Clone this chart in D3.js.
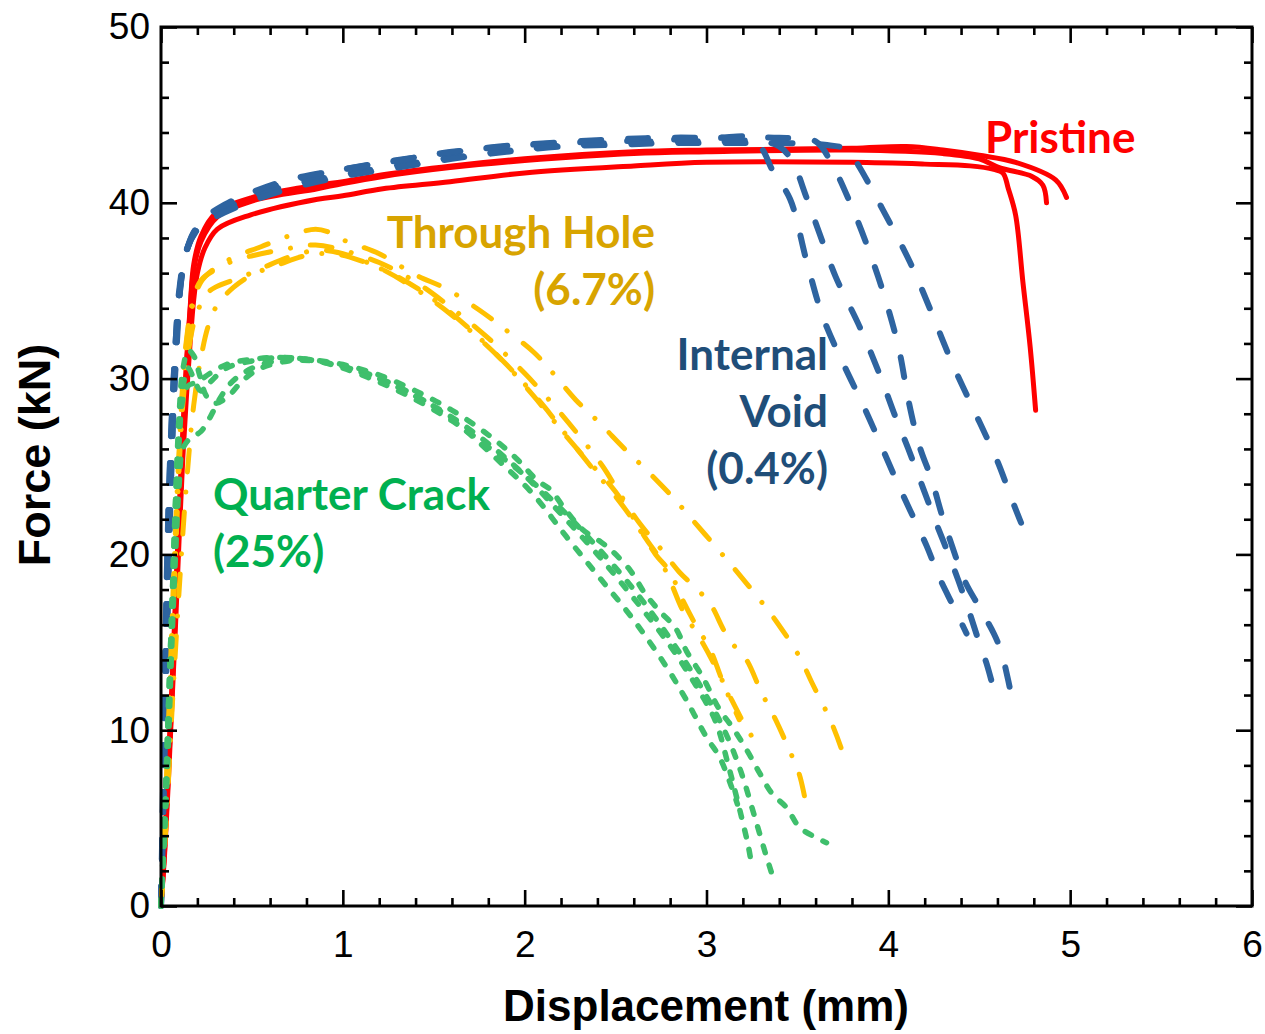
<!DOCTYPE html>
<html>
<head>
<meta charset="utf-8">
<script src="https://cdn.jsdelivr.net/npm/d3@7"></script>
<style>
  html, body { margin: 0; padding: 0; background: #fff; }
  svg { display: block; }
</style>
</head>
<body>
<svg id="chart" width="1265" height="1034"></svg>
<script>
// Force–displacement curves, [displacement (mm), force (kN)]

// Pristine specimens
const pristine1 = [[0,0],[0.02,3],[0.04,7],[0.06,11.5],[0.08,16],[0.1,21],[0.12,25.5],[0.14,29],[0.16,32],[0.18,34.5],[0.2,36],[0.24,37.4],[0.31,38.5],[0.49,39.3],[0.86,40.2],[1.0,40.4],[1.22,40.8],[1.59,41.2],[2.0,41.7],[2.6,42.1],[3.0,42.3],[3.8,42.3],[4.2,42.2],[4.45,42.1],[4.58,41.9],[4.63,41.7],[4.66,40.8],[4.7,39.3],[4.74,35.5],[4.78,31.8],[4.81,28.2]];
const pristine2 = [[0,0],[0.02,3.2],[0.04,7.5],[0.06,12],[0.08,17],[0.1,22],[0.12,26.5],[0.14,30.5],[0.16,33.8],[0.18,36.2],[0.22,37.8],[0.31,39.2],[0.5,40.1],[0.86,40.8],[1.0,41.1],[1.22,41.5],[1.59,42.0],[2.0,42.4],[2.6,42.8],[3.0,42.9],[3.8,43.0],[4.3,42.8],[4.5,42.5],[4.61,42.0],[4.79,41.5],[4.85,41.0],[4.87,40.0]];
const pristine3 = [[0,0],[0.02,3.4],[0.04,8],[0.06,12.5],[0.08,17.5],[0.1,22.5],[0.12,27],[0.14,31],[0.16,34],[0.18,36.5],[0.22,38.1],[0.3,39.4],[0.5,40.3],[0.86,41.0],[1.0,41.2],[1.22,41.6],[1.6,42.1],[2.0,42.5],[2.6,42.9],[3.0,43.0],[3.8,43.1],[4.1,43.2],[4.3,43.0],[4.5,42.7],[4.7,42.3],[4.92,41.3],[4.98,40.3]];

// Internal void (0.4%)
const void1 = [[0,0],[0.01,5],[0.02,11],[0.03,17],[0.04,22],[0.055,26.5],[0.07,30],[0.09,33.5],[0.12,36.3],[0.16,37.8],[0.22,38.8],[0.3,39.5],[0.4,40.1],[0.55,40.7],[0.7,41.2],[0.85,41.6],[1.0,41.9],[1.28,42.4],[1.55,42.8],[1.86,43.2],[2.14,43.4],[2.47,43.6],[2.76,43.7],[3.05,43.7],[3.25,43.7],[3.31,43.0],[3.36,41.9],[3.46,40.2],[3.55,36.7],[3.64,33.5],[3.75,30.9],[3.87,28.3],[3.96,26.2],[4.04,24.3],[4.12,22.5],[4.21,20.5],[4.28,18.7],[4.36,17.0],[4.43,15.5]];
const void2 = [[0,0],[0.01,6],[0.02,12],[0.03,18],[0.045,24],[0.06,28],[0.08,32],[0.1,35],[0.14,37.3],[0.21,38.6],[0.3,39.3],[0.4,39.9],[0.67,40.9],[1.0,41.6],[1.28,42.1],[1.55,42.5],[1.86,42.9],[2.14,43.2],[2.47,43.4],[2.76,43.5],[3.05,43.5],[3.3,43.5],[3.4,43.2],[3.47,42.4],[3.55,40.3],[3.62,38.3],[3.71,35.8],[3.84,33.0],[3.95,30.3],[4.04,27.8],[4.11,26.0],[4.19,23.8],[4.27,21.6],[4.35,19.5],[4.43,17.2],[4.49,15.3],[4.54,13.8],[4.57,12.7]];
const void3 = [[0,0],[0.01,5],[0.02,10],[0.035,17],[0.05,23],[0.065,27.5],[0.08,31],[0.1,34.5],[0.13,36.8],[0.18,38.3],[0.25,39.2],[0.35,39.9],[0.5,40.6],[0.7,41.3],[1.0,41.9],[1.3,42.4],[1.6,42.9],[1.9,43.2],[2.2,43.4],[2.5,43.5],[2.8,43.6],[3.1,43.7],[3.4,43.7],[3.6,43.5],[3.68,42.4],[3.79,40.0],[3.9,37.1],[3.99,34.3],[4.06,31.6],[4.11,28.8],[4.17,26.2],[4.24,24.2],[4.29,22.4],[4.35,20.5],[4.42,18.5],[4.5,17.0],[4.58,15.5],[4.62,14.5],[4.66,12.8],[4.68,11.8]];
const void4 = [[0,0],[0.01,4],[0.025,11],[0.04,18],[0.055,24],[0.07,28.5],[0.09,32.5],[0.11,35.5],[0.15,37.6],[0.2,38.6],[0.3,39.2],[0.45,39.9],[0.67,40.7],[1.0,41.5],[1.3,42.0],[1.6,42.5],[1.9,42.9],[2.2,43.2],[2.5,43.3],[2.8,43.4],[3.1,43.4],[3.4,43.4],[3.65,43.3],[3.78,43.0],[3.84,42.05],[3.97,39.6],[4.12,36.6],[4.24,33.7],[4.35,30.9],[4.48,28.0],[4.6,25.3],[4.68,23.1],[4.73,21.8]];

// Through hole (6.7%)
const hole1 = [[0,0],[0.02,4],[0.04,9.5],[0.06,15],[0.08,20.5],[0.1,25.5],[0.12,29.5],[0.14,32],[0.17,34],[0.22,35.5],[0.3,36.3],[0.4,36.9],[0.55,37.5],[0.7,38.1],[0.85,38.5],[0.93,38.3],[1.0,37.9],[1.2,37.1],[1.4,35.9],[1.57,35.1],[1.75,33.9],[1.88,32.9],[2.05,31.5],[2.14,30.5],[2.28,28.8],[2.4,27.6],[2.56,25.9],[2.67,24.8],[2.81,23.3],[2.92,22.0],[3.07,20.2],[3.16,19.1],[3.31,17.2],[3.39,16.1],[3.51,14.2],[3.58,12.7],[3.68,10.6],[3.74,9.0],[3.77,8.0]];
const hole2 = [[0,0],[0.02,4.5],[0.04,10],[0.06,16],[0.08,21.5],[0.1,26],[0.12,29.8],[0.14,32.2],[0.17,34.2],[0.22,35.6],[0.3,36.2],[0.4,36.7],[0.55,37.1],[0.7,37.4],[0.85,37.6],[1.0,37.3],[1.2,36.6],[1.4,35.5],[1.6,34.0],[1.8,32.3],[2.0,30.3],[2.15,28.6],[2.28,27.0],[2.43,25.0],[2.52,23.5],[2.63,21.8],[2.75,20.3],[2.85,19.0],[2.94,18.1],[3.02,17.2],[3.1,15.6],[3.16,14.7],[3.22,14.0],[3.3,12.2],[3.38,10.6],[3.45,9.0],[3.51,7.5],[3.54,6.2],[3.56,5.3]];
const hole3 = [[0,0],[0.02,4],[0.04,9],[0.06,14.5],[0.08,20],[0.1,25],[0.12,28.5],[0.15,31.5],[0.19,33.5],[0.25,34.8],[0.3,35.2],[0.45,35.8],[0.56,36.3],[0.7,36.9],[0.86,37.3],[1.0,37.1],[1.2,36.3],[1.4,35.1],[1.6,33.6],[1.86,31.2],[2.05,29.0],[2.23,26.7],[2.34,25.4],[2.45,24.2],[2.56,22.7],[2.66,21.0],[2.74,19.8],[2.8,18.5],[2.87,16.8],[2.96,15.3],[3.05,13.6],[3.13,11.9],[3.2,10.5],[3.27,9.3]];
const hole4 = [[0,0],[0.03,5],[0.06,11],[0.1,18],[0.14,24],[0.18,28.5],[0.22,31.2],[0.26,33],[0.31,34.2],[0.4,35.2],[0.5,35.9],[0.65,36.5],[0.8,37.0],[0.95,37.1],[1.1,36.7],[1.3,35.8],[1.5,34.5],[1.7,32.8],[1.9,30.8],[2.1,28.5],[2.25,26.5],[2.38,24.8],[2.5,23.3],[2.62,21.6],[2.72,20.0],[2.8,19.0],[2.86,17.6],[2.94,16.0],[3.02,14.6],[3.08,13.0],[3.14,11.5],[3.18,10.6]];

// Quarter crack (25%)
const crack1 = [[0,0],[0.02,5],[0.04,11],[0.06,17],[0.08,23],[0.1,27],[0.12,29.5],[0.15,30.6],[0.18,30.0],[0.22,29.3],[0.27,29.8],[0.36,30.6],[0.5,31.0],[0.65,31.2],[0.8,31.1],[0.95,30.8],[1.13,30.3],[1.31,29.5],[1.5,28.4],[1.68,27.0],[1.86,25.3],[2.04,23.5],[2.23,21.0],[2.41,18.7],[2.59,16.4],[2.78,13.6],[2.89,11.7],[3.0,9.6],[3.07,8.5],[3.13,7.0],[3.17,5.8]];
const crack2 = [[0,0],[0.02,5],[0.04,11],[0.06,17],[0.08,23],[0.1,28],[0.12,30.5],[0.15,31.6],[0.18,31.3],[0.21,30.3],[0.25,29.0],[0.3,28.6],[0.37,29.0],[0.45,29.9],[0.55,30.6],[0.7,31.0],[0.85,31.0],[1.0,30.7],[1.2,30.0],[1.4,29.0],[1.6,27.8],[1.8,26.3],[2.0,24.5],[2.2,22.3],[2.4,20.0],[2.6,17.5],[2.8,14.8],[2.95,12.4],[3.05,10.5],[3.12,8.0],[3.17,6.0],[3.23,3.4],[3.25,2.2]];
const crack3 = [[0,0],[0.02,4],[0.04,9],[0.06,15],[0.08,20],[0.1,24],[0.12,26],[0.16,26.6],[0.22,27.0],[0.27,27.8],[0.32,28.8],[0.38,29.7],[0.45,30.3],[0.55,30.8],[0.7,31.1],[0.85,31.0],[1.0,30.6],[1.2,29.8],[1.4,28.8],[1.6,27.6],[1.8,26.1],[2.0,24.5],[2.2,22.6],[2.4,20.4],[2.6,18.0],[2.8,15.2],[2.95,12.8],[3.05,11.0],[3.12,9.5],[3.17,8.2],[3.21,7.0],[3.25,5.6],[3.29,4.2],[3.33,2.8],[3.37,1.5]];
const crack4 = [[0,0],[0.02,5],[0.04,10],[0.06,16],[0.08,22],[0.1,26.5],[0.12,28.8],[0.15,29.6],[0.2,29.8],[0.27,30.3],[0.36,30.8],[0.5,31.1],[0.65,31.2],[0.8,31.1],[1.0,30.8],[1.2,30.2],[1.4,29.3],[1.6,28.2],[1.8,26.8],[1.95,25.5],[2.07,24.2],[2.14,23.7],[2.22,22.6],[2.32,21.4],[2.42,20.7],[2.48,20.2],[2.58,19.1],[2.66,17.8],[2.74,16.8],[2.83,15.8],[2.89,14.5],[2.98,13.0],[3.07,11.2],[3.14,10.2],[3.22,8.9],[3.29,7.6],[3.36,6.4],[3.44,5.6],[3.51,4.5],[3.6,3.9],[3.66,3.6]];

// Axis ticks
const xTicks = [0, 1, 2, 3, 4, 5, 6];
const yTicks = [0, 10, 20, 30, 40, 50];

// Group labels
const labelPristine = ["Pristine"];
const labelHole = ["Through Hole", "(6.7%)"];
const labelVoid = ["Internal", "Void", "(0.4%)"];
const labelCrack = ["Quarter Crack", "(25%)"];

// ---------------------------------------------------------------
const svg = d3.select("#chart");
const plotL = 161, plotR = 1252, plotT = 27, plotB = 906;

const x = d3.scaleLinear().domain([0, 6]).range([plotL, plotR]);
const y = d3.scaleLinear().domain([0, 50]).range([plotB, plotT]);

const line = d3.line()
  .x(d => x(d[0]))
  .y(d => y(d[1]))
  .curve(d3.curveCatmullRom.alpha(0.5));

const plot = svg.append("g");

function drawSeries(list, style) {
  plot.append("g")
    .selectAll("path")
    .data(list)
    .join("path")
    .attr("d", line)
    .attr("fill", "none")
    .attr("stroke", style.color)
    .attr("stroke-width", style.width)
    .attr("stroke-linecap", "round")
    .attr("stroke-linejoin", "round")
    .attr("stroke-dasharray", style.dash || null);
}

drawSeries([pristine1, pristine2, pristine3], { color: "#FF0000", width: 5 });
drawSeries([void1, void2, void3, void4], { color: "#2E64A0", width: 6, dash: "20 27" });
drawSeries([hole1, hole2, hole3, hole4], { color: "#FFC000", width: 5, dash: "22 20 0.1 20" });
drawSeries([crack1, crack2, crack3, crack4], { color: "#3FBF6C", width: 5.5, dash: "7 13" });

// Axes: ticks point inward on all four sides
const tickFont = "'Liberation Sans', Arial, sans-serif";
const xMinor = d3.range(0, 6.0001, 0.2).filter(v => Math.abs(v - Math.round(v)) > 1e-6);
const yMinor = d3.range(0, 50.0001, 2).filter(v => v % 10 !== 0);

function styleAxis(g) {
  g.selectAll("path.domain").remove();
  g.selectAll(".tick line").attr("stroke", "#000").attr("stroke-width", 2.6);
  g.selectAll("text")
    .attr("fill", "#000")
    .style("font-family", tickFont)
    .style("font-size", "37px");
}

// bottom
svg.append("g").attr("transform", `translate(0,${plotB})`)
  .call(d3.axisBottom(x).tickValues(xTicks).tickSize(-16).tickPadding(25).tickFormat(d3.format("d")))
  .call(styleAxis);
svg.append("g").attr("transform", `translate(0,${plotB})`)
  .call(d3.axisBottom(x).tickValues(xMinor).tickSize(-8).tickFormat(""))
  .call(styleAxis);
// top
svg.append("g").attr("transform", `translate(0,${plotT})`)
  .call(d3.axisTop(x).tickValues(xTicks).tickSize(-16).tickFormat(""))
  .call(styleAxis);
svg.append("g").attr("transform", `translate(0,${plotT})`)
  .call(d3.axisTop(x).tickValues(xMinor).tickSize(-8).tickFormat(""))
  .call(styleAxis);
// left
svg.append("g").attr("transform", `translate(${plotL},0)`)
  .call(d3.axisLeft(y).tickValues(yTicks).tickSize(-16).tickPadding(11).tickFormat(d3.format("d")))
  .call(styleAxis);
svg.append("g").attr("transform", `translate(${plotL},0)`)
  .call(d3.axisLeft(y).tickValues(yMinor).tickSize(-8).tickFormat(""))
  .call(styleAxis);
// right
svg.append("g").attr("transform", `translate(${plotR},0)`)
  .call(d3.axisRight(y).tickValues(yTicks).tickSize(-16).tickFormat(""))
  .call(styleAxis);
svg.append("g").attr("transform", `translate(${plotR},0)`)
  .call(d3.axisRight(y).tickValues(yMinor).tickSize(-8).tickFormat(""))
  .call(styleAxis);

// frame
svg.append("rect")
  .attr("x", plotL).attr("y", plotT)
  .attr("width", plotR - plotL).attr("height", plotB - plotT)
  .attr("fill", "none").attr("stroke", "#000").attr("stroke-width", 3);

// axis titles
svg.append("text")
  .attr("x", 706).attr("y", 1021)
  .attr("text-anchor", "middle")
  .style("font-family", tickFont).style("font-weight", "bold").style("font-size", "44px")
  .text("Displacement (mm)");
svg.append("text")
  .attr("transform", "translate(50,455) rotate(-90)")
  .attr("text-anchor", "middle")
  .style("font-family", tickFont).style("font-weight", "bold").style("font-size", "45px")
  .text("Force (kN)");

// in-plot group labels
const labelFont = "Lato, 'Open Sans', sans-serif";
function drawLabel(lines, xPos, yFirst, anchor, color) {
  svg.append("g").selectAll("text")
    .data(lines)
    .join("text")
    .attr("x", xPos)
    .attr("y", (d, i) => yFirst + i * 57)
    .attr("text-anchor", anchor)
    .attr("fill", color)
    .style("font-family", labelFont)
    .style("font-weight", "bold")
    .style("font-size", "44px")
    .text(d => d);
}
drawLabel(labelPristine, 985, 153, "start", "#FF0000");
drawLabel(labelHole, 655, 248, "end", "#D8A400");
drawLabel(labelVoid, 828, 370, "end", "#1F4E79");
drawLabel(labelCrack, 213, 510, "start", "#00B050");
</script>
</body>
</html>
